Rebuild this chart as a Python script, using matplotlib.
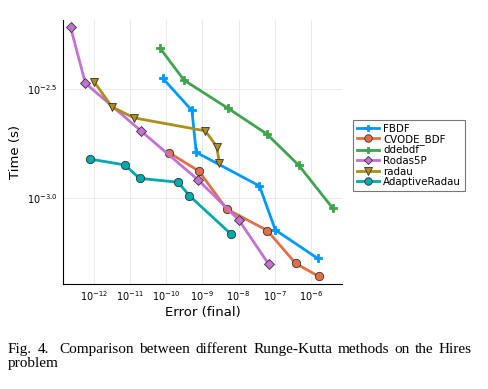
import matplotlib
matplotlib.use("Agg")
import matplotlib.pyplot as plt
import numpy as np

# log10 of final error / time
fbdf_err = [-10.10, -9.29, -9.17, -7.42, -6.98, -5.81]
fbdf_time = [-2.449, -2.598, -2.791, -2.946, -3.149, -3.280]

cvode_err = [-9.93, -9.10, -8.33, -7.20, -6.42, -5.78]
cvode_time = [-2.792, -2.877, -3.052, -3.152, -3.303, -3.363]

ddebdf_err = [-10.17, -9.51, -8.29, -7.22, -6.33, -5.39]
ddebdf_time = [-2.311, -2.458, -2.588, -2.706, -2.851, -3.049]

rodas_err = [-12.65, -12.24, -10.71, -9.12, -7.99, -7.16]
rodas_time = [-2.214, -2.472, -2.691, -2.918, -3.103, -3.308]

radau_err = [-12.00, -11.50, -10.89, -8.92, -8.60, -8.53]
radau_time = [-2.465, -2.582, -2.632, -2.692, -2.765, -2.842]

arad_err = [-12.11, -11.15, -10.74, -9.67, -9.36, -8.20]
arad_time = [-2.822, -2.849, -2.911, -2.929, -2.991, -3.169]

series = [
    ("FBDF", fbdf_err, fbdf_time, "#009AFA", "P"),
    ("CVODE_BDF", cvode_err, cvode_time, "#E36F47", "o"),
    ("ddebdf", ddebdf_err, ddebdf_time, "#3EA44E", "P"),
    ("Rodas5P", rodas_err, rodas_time, "#C371D2", "D"),
    ("radau", radau_err, radau_time, "#AC8E18", "v"),
    ("AdaptiveRadau", arad_err, arad_time, "#00A9AD", "o"),
]

x_ticks = [-12, -11, -10, -9, -8, -7, -6]
y_ticks = [-3.0, -2.5]

fig = plt.figure(figsize=(4.89, 3.89), dpi=100)
ax = fig.add_axes([0.1295, 0.270, 0.5695, 0.679])

for name, err, t, color, mk in series:
    ms = {"o": 6, "v": 6, "D": 4.8, "P": 5.2}[mk]
    mec = color if mk == "P" else "#333333"
    ax.plot(10.0 ** np.array(err), 10.0 ** np.array(t), color=color, lw=2,
            marker=mk, ms=ms, mfc=color, mec=mec, mew=0.6, label=name)

ax.set_xscale("log")
ax.set_yscale("log")
ax.set_xlim(10 ** -12.85, 10 ** -5.14)
ax.set_ylim(10 ** -3.398, 10 ** -2.180)
ax.set_xticks([10.0 ** v for v in x_ticks])
ax.set_xticklabels([f"$10^{{{v}}}$" for v in x_ticks])
ax.set_yticks([10.0 ** v for v in y_ticks])
ax.set_yticklabels([f"$10^{{{v:.1f}}}$" for v in y_ticks])
ax.minorticks_off()
ax.tick_params(labelsize=7, length=0, pad=4)
ax.grid(True, color="#e6e6e6", lw=0.6)
for s in ("top", "right"):
    ax.spines[s].set_visible(False)
ax.set_xlabel("Error (final)", fontsize=9.5, labelpad=2)
ax.set_ylabel("Time (s)", fontsize=9.5, labelpad=4)

leg = ax.legend(loc="upper left", bbox_to_anchor=(1.04, 0.621), fontsize=7.4,
                frameon=True, fancybox=False, edgecolor="#555555",
                handlelength=2.2, handletextpad=0.4, borderpad=0.35,
                labelspacing=0.05, borderaxespad=0, markerscale=0.9)
leg.get_frame().set_linewidth(0.8)

# caption, first line justified
words = ["Fig.", "4.", "Comparison", "between", "different", "Runge-Kutta",
         "methods", "on", "the", "Hires"]
x0, x1, yl1 = 8 / 489, 472 / 489, 1 - 353 / 389
texts = [fig.text(x0, yl1, w, family="Liberation Serif", fontsize=11, va="baseline")
         for w in words]
renderer = fig.canvas.get_renderer()
widths = [t.get_window_extent(renderer).width / fig.bbox.width for t in texts]
gap = (x1 - x0 - sum(widths)) / len(words)
pos = x0
for i, (t, w) in enumerate(zip(texts, widths)):
    t.set_x(pos)
    pos += w + gap * (2 if i == 1 else 1)
fig.text(x0, 1 - 367 / 389, "problem", family="Liberation Serif", fontsize=11,
         va="baseline")

fig.savefig("out.png", dpi=100)
